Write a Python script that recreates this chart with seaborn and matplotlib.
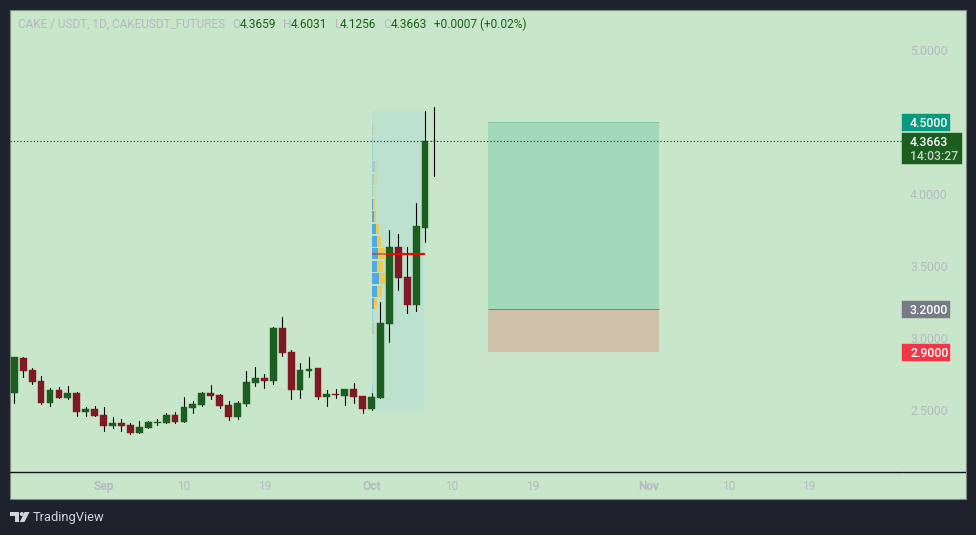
import numpy as np
import pandas as pd
import matplotlib
matplotlib.use("Agg")
import matplotlib.pyplot as plt
from matplotlib.patches import Rectangle, Polygon, Circle
import seaborn as sns

opens = [2.620,2.861,2.778,2.701,2.549,2.639,2.583,2.618,2.486,2.507,2.465,2.389,2.410,2.396,2.340,2.375,2.410,2.410,2.465,2.417,
         2.514,2.535,2.618,2.604,2.535,2.451,2.542,2.688,2.722,2.701,3.070,2.903,2.639,2.771,2.792,2.590,2.611,2.597,2.646,2.597,
         2.507,2.583,3.097,3.632,3.424,3.229,3.764,4.3659]
highs = [2.868,2.868,2.792,2.736,2.653,2.660,2.667,2.625,2.521,2.528,2.521,2.451,2.437,2.410,2.424,2.424,2.437,2.479,2.486,2.590,
         2.562,2.625,2.674,2.611,2.563,2.563,2.771,2.799,2.750,3.076,3.146,2.917,2.826,2.868,2.792,2.639,2.646,2.646,2.688,2.597,
         2.618,3.250,3.750,3.722,3.632,3.938,4.576,4.6031]
lows = [2.551,2.731,2.680,2.542,2.528,2.583,2.576,2.458,2.458,2.458,2.354,2.375,2.354,2.333,2.340,2.375,2.396,2.410,2.410,2.417,
        2.479,2.528,2.576,2.514,2.431,2.438,2.528,2.667,2.653,2.681,2.875,2.576,2.583,2.729,2.576,2.528,2.583,2.535,2.549,2.479,
        2.500,2.583,2.972,3.333,3.174,3.188,3.667,4.1256]
closes = [2.868,2.771,2.694,2.549,2.639,2.583,2.618,2.486,2.507,2.458,2.389,2.410,2.389,2.340,2.382,2.417,2.417,2.465,2.417,2.521,
          2.542,2.618,2.597,2.528,2.451,2.549,2.695,2.722,2.701,3.070,2.896,2.639,2.778,2.785,2.590,2.611,2.604,2.646,2.590,2.507,
          2.590,3.104,3.632,3.417,3.229,3.778,4.368,4.3663]

x_ticks = [10, 19, 28, 40, 49, 58, 71, 80, 89]
x_labels = ["Sep", "10", "19", "Oct", "10", "19", "Nov", "10", "19"]
y_ticks = [2.5, 3.0, 3.5, 4.0, 5.0]
y_labels = ["2.5000", "3.0000", "3.5000", "4.0000", "5.0000"]

vp_top = 4.576
vp_bottom = 2.507
vp_poc = 3.583
vp_start, vp_end = 40, 46
vp_up = [0, 1.3, 1.3, 1.3, 3, 2, 1, 1.4, 2, 4, 5, 6, 5, 7, 5, 2, 1, 2, 0, 0, 0, 0, 1, 0]
vp_down = [0, 1.7, 0, 0, 3, 3, 2, 1.6, 2, 3, 4, 8, 6, 6, 5, 3, 0.4, 1, 0, 0, 0, 0, 0, 0]

target, stop, entry = 4.5, 2.9, 3.2
trade_start, trade_end = 53, 72.2
last_price = 4.3663

PX = 8.93
BG = "#c8e6c9"
DARK = "#1e222d"
GREEN = "#1b5e20"
RED = "#801922"
GREY = "#b6b9c2"

sns.set_theme(style="white", rc={"figure.facecolor": DARK, "axes.facecolor": BG})
plt.rcParams["font.family"] = ["Roboto", "DejaVu Sans"]

fig = plt.figure(figsize=(9.76, 5.35), dpi=100, facecolor=DARK)
ax = fig.add_axes([10 / 976, 36 / 535, 956 / 976, 489 / 535])
ax.set_xlim(-0.48, 106.57)
ax.set_ylim(1.882, 5.278)

days = np.arange(len(opens))
wicks = pd.DataFrame({
    "day": np.repeat(days, 2),
    "price": np.column_stack([lows, highs]).ravel(),
    "unit": np.repeat(days, 2),
})
sns.lineplot(data=wicks, x="day", y="price", units="unit", estimator=None, sort=False,
             color="black", linewidth=0.8, ax=ax, zorder=3, legend=False)

o, c = np.array(opens), np.array(closes)
colors = [GREEN if cc >= oo else RED for oo, cc in zip(o, c)]
ax.bar(days, np.abs(c - o), bottom=np.minimum(o, c), width=6.8 / PX, color=colors,
       edgecolor=colors, linewidth=0.3, zorder=4)

# trade box
ax.fill_between([trade_start, trade_end], entry, target, color="#a3d8ba", linewidth=0, zorder=1)
ax.fill_between([trade_start, trade_end], stop, entry, color="#cfc0aa", linewidth=0, zorder=1)
ax.hlines(target, trade_start, trade_end, color="#7cc4a8", linewidth=0.7, zorder=2)
ax.hlines(entry, trade_start, trade_end, color="#6f8a78", linewidth=0.7, zorder=2)

# volume profile
ax.fill_between([vp_start, vp_end], vp_bottom, vp_top, color="#7cc4fa", alpha=0.14, linewidth=0, zorder=2)
row_h = (vp_top - vp_bottom) / len(vp_up)
row_c = vp_top - row_h * (np.arange(len(vp_up)) + 0.5)
for i, (up, dn, yc) in enumerate(zip(vp_up, vp_down, row_c)):
    a = 0.95 if 7 <= i <= 15 else 0.3
    ax.barh(yc, up / PX, left=vp_start, height=row_h * 0.88, color="#4aa8e4", alpha=a, linewidth=0, zorder=6)
    ax.barh(yc, dn / PX, left=vp_start + up / PX, height=row_h * 0.88, color="#f0c850", alpha=a, linewidth=0, zorder=6)
ax.hlines(vp_poc, vp_start, vp_start + 1.6, color="#a03050", alpha=0.55, linewidth=1.5, zorder=7)
ax.hlines(vp_poc, vp_start + 1.6, vp_end, color="#ff0000", linewidth=1.5, zorder=7)

# last price and time-axis separator
ax.plot([-0.48, 99.4], [last_price, last_price], color="#1a2a1a", linestyle=(0, (1, 2)), linewidth=0.8, zorder=8)
ax.axhline(2.0694, xmin=0, xmax=892 / 956, color="#131722", linewidth=1, zorder=8)
ax.axhline(2.0694, xmin=893 / 956, xmax=1, color="#131722", linewidth=1, zorder=8)

# axes
ax.yaxis.tick_right()
ax.set_xticks(x_ticks, x_labels)
ax.set_yticks(y_ticks, y_labels)
ax.tick_params(axis="x", length=0, pad=-13.5, labelsize=8.6, colors=GREY)
ax.tick_params(axis="y", length=0, pad=-40.3, labelsize=8.8, colors=GREY)
ax.set_xlabel("")
ax.set_ylabel("")
for lab in ax.get_xticklabels():
    if lab.get_text() in ("Sep", "Oct", "Nov"):
        lab.set_fontweight("bold")
for lab in ax.get_yticklabels():
    lab.set_va("center_baseline")
for s in ax.spines.values():
    s.set_color("#7d8a80")
    s.set_linewidth(0.8)
    s.set_visible(True)

# price tags
box_x = 99.45
tx = 100.3
def tag(y, text, col):
    ax.add_patch(Rectangle((box_x, y - 0.059), 5.37, 0.118, fc=col, ec=col, lw=0.3, zorder=10))
    ax.text(tx, y, text, color="white", fontsize=8.8, fontweight="medium", va="center_baseline", ha="left", zorder=11)
tag(target, "4.5000", "#089981")
tag(entry, "3.2000", "#787b86")
tag(stop, "2.9000", "#f23645")
ax.add_patch(Rectangle((box_x, 4.2083), 6.7, 0.2153, fc=GREEN, ec=GREEN, lw=0.3, zorder=10))
ax.text(tx, 4.3690, "4.3663", color="white", fontsize=8.8, fontweight="medium", va="center_baseline", ha="left", zorder=11)
ax.text(tx, 4.2690, "14:03:27", color="#c9d3c9", fontsize=8.8, fontweight="medium", va="center_baseline", ha="left", zorder=11)

# header
def head(px, s, col, size=8.6):
    fig.text(px / 976, 1 - 24.5 / 535, s, color=col, fontsize=size, va="center", ha="left")
head(18, "CAKE / USDT, 1D, CAKEUSDT_FUTURES", GREY, 8.45)
for px_l, l, px_v, v in [(232.5, "O", 240, "4.3659"), (283, "H", 291, "4.6031"), (334.5, "L", 340, "4.1256"), (383, "C", 391, "4.3663")]:
    head(px_l, l, GREY)
    head(px_v, v, GREEN)
head(433.5, "+0.0007 (+0.02%)", GREEN)

# footer logo
fa = fig.add_axes([0, 0, 1, 1], facecolor="none")
fa.set_xlim(0, 976)
fa.set_ylim(535, 0)
fa.axis("off")
LOGO = "#d1d4dc"
fa.add_patch(Polygon([(10, 512), (19, 512), (19, 522), (15, 522), (15, 516), (10, 516)], fc=LOGO, ec="none"))
fa.add_patch(Circle((21.8, 514), 2, fc=LOGO, ec="none"))
fa.add_patch(Polygon([(24.5, 512), (29.5, 512), (24.5, 522), (19.8, 522)], fc=LOGO, ec="none"))
fa.text(33, 517.5, "TradingView", color=LOGO, fontsize=9.3, va="center", ha="left")

fig.savefig("out.png", dpi=100, facecolor=DARK)
